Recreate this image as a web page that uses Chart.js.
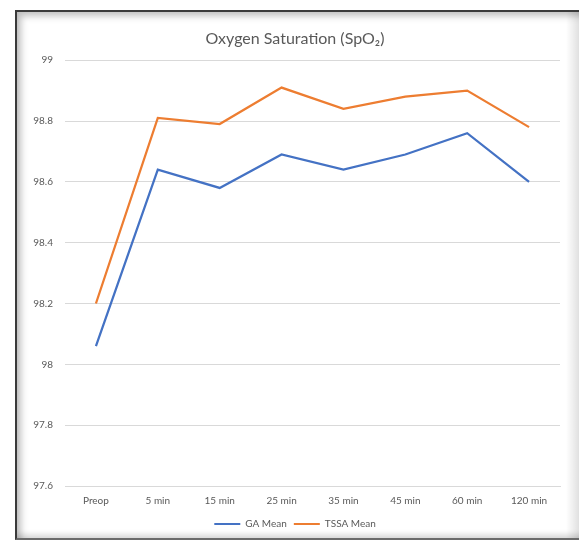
<!DOCTYPE html>
<html>
<head>
<meta charset="utf-8">
<script src="https://cdn.jsdelivr.net/npm/chart.js@4"></script>
<style>
  html, body { margin: 0; padding: 0; background: #ffffff; }
  body { width: 579px; height: 540px; position: relative; overflow: hidden; }
  #frame {
    position: absolute; left: 15px; top: 10px; width: 580px; height: 526px;
    border-top: 2px solid #3a3a3a; border-left: 2px solid #3a3a3a; border-bottom: 2px solid #6a6a6a;
    background: #ffffff;
    box-shadow: inset 7px 7px 7px -3px rgba(0,0,0,0.25), inset 0 -6px 6px -3px rgba(0,0,0,0.18);
  }
  #rightShade {
    position: absolute; left: 566px; top: 12px; width: 13px; height: 526px;
    background: linear-gradient(to right, rgba(0,0,0,0.0), rgba(0,0,0,0.12));
  }
  #c { position: absolute; left: 0; top: 0; }
</style>
</head>
<body>
<div id="frame"></div>
<div id="rightShade"></div>
<canvas id="c" width="579" height="540"></canvas>
<script>
// Time points of the measurements
const timePoints = ['Preop', '5 min', '15 min', '25 min', '35 min', '45 min', '60 min', '120 min'];
// Mean SpO2 (%) per group
const gaMean   = [98.06, 98.64, 98.58, 98.69, 98.64, 98.69, 98.76, 98.60];
const tssaMean = [98.20, 98.81, 98.79, 98.91, 98.84, 98.88, 98.90, 98.78];
// Y-axis tick values
const yTicks = [97.6, 97.8, 98.0, 98.2, 98.4, 98.6, 98.8, 99.0];

const textGray = '#595959';
const gridGray = '#d9d9d9';
const fontFamily = 'Lato, "Open Sans", sans-serif';

new Chart(document.getElementById('c'), {
  type: 'line',
  data: {
    labels: timePoints,
    datasets: [
      {
        label: 'GA Mean',
        data: gaMean,
        borderColor: '#4472c4',
        backgroundColor: '#4472c4',
        borderWidth: 2.25,
        pointRadius: 0,
        tension: 0
      },
      {
        label: 'TSSA Mean',
        data: tssaMean,
        borderColor: '#ed7d31',
        backgroundColor: '#ed7d31',
        borderWidth: 2.25,
        pointRadius: 0,
        tension: 0
      }
    ]
  },
  options: {
    responsive: false,
    animation: false,
    layout: { padding: { left: 30, right: 19, top: 29, bottom: 1 } },
    plugins: {
      title: {
        display: true,
        text: 'Oxygen Saturation (SpO\u2082)',
        color: textGray,
        font: { family: fontFamily, size: 16, weight: 'normal' },
        padding: { top: 0, bottom: 12 }
      },
      legend: {
        position: 'bottom',
        labels: {
          color: textGray,
          font: { family: fontFamily, size: 10 },
          boxWidth: 26,
          boxHeight: 2,
          padding: 7,
          generateLabels(chart) {
            return Chart.defaults.plugins.legend.labels.generateLabels(chart)
              .map(item => Object.assign(item, { lineWidth: 0 }));
          }
        }
      },
      tooltip: { enabled: false }
    },
    scales: {
      x: {
        offset: true,
        afterFit(scale) { scale.height = 26; },
        grid: { display: false, drawTicks: false, offset: true },
        border: { display: true, color: gridGray, width: 1 },
        ticks: { color: textGray, font: { family: fontFamily, size: 10 }, padding: 9, maxRotation: 0, autoSkip: false }
      },
      y: {
        min: yTicks[0],
        max: yTicks[yTicks.length - 1],
        afterBuildTicks(scale) {
          scale.ticks = yTicks.map(v => ({ value: v }));
        },
        afterFit(scale) { scale.width = 35; },
        grid: { color: gridGray, lineWidth: 1, drawTicks: false },
        border: { display: false },
        ticks: {
          color: textGray,
          font: { family: fontFamily, size: 10 },
          padding: 12,
          callback: v => String(+Number(v).toFixed(1))
        }
      }
    }
  }
});
</script>
</body>
</html>
